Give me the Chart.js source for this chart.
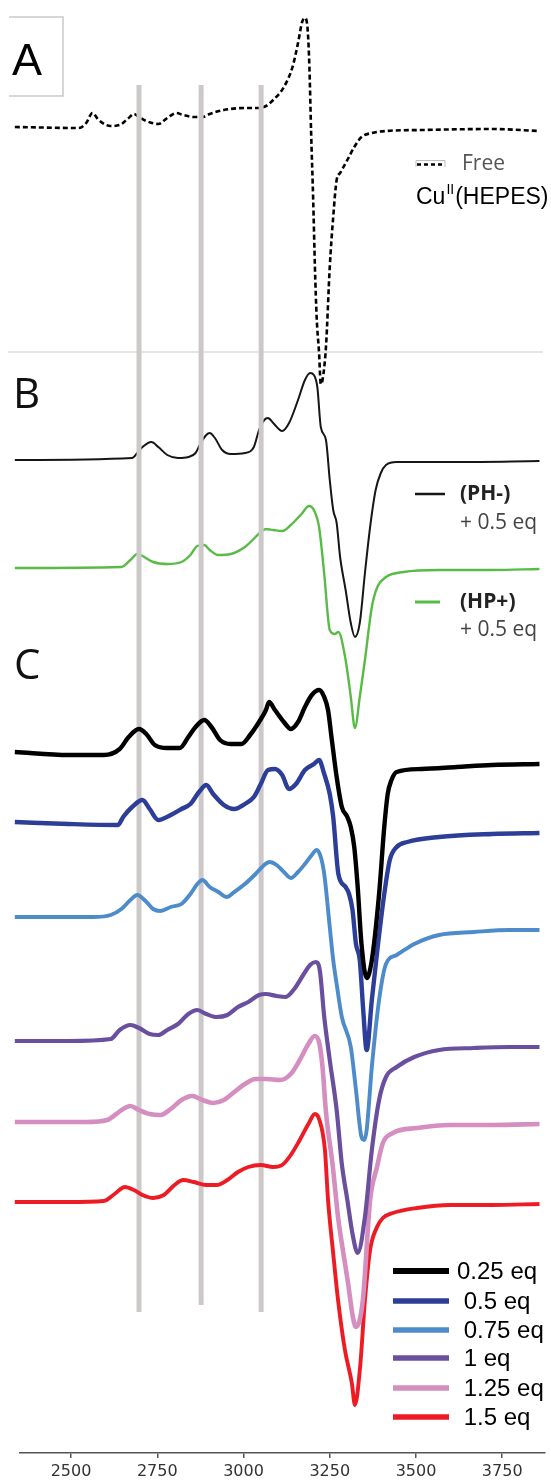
<!DOCTYPE html>
<html>
<head>
<meta charset="utf-8">
<script src="https://cdn.jsdelivr.net/npm/chart.js@4.4.1/dist/chart.umd.min.js"></script>
<style>
html,body{margin:0;padding:0;background:#fff;}
#wrap{width:551px;height:1482px;position:relative;}
canvas{display:block;}
</style>
</head>
<body>
<div id="wrap"><canvas id="c" width="551" height="1482"></canvas></div>
<script>
// ---- data (field in G, signal in arbitrary units relative to each trace's baseline) ----
const xTicks = [2500, 2750, 3000, 3250, 3500, 3750];
const hyperfineLines = [2697, 2877, 3051];
const hyperfineTop = [1368, 1368, 1368];
const hyperfineBottom = [141, 148, 141];

const freeField  = [2337,2523,2544,2562,2580,2615,2641,2667,2682,2697,2718,2753,2779,2805,2825,2856,2881,2902,2943,3004,3045,3065,3086,3117,3142,3158,3170,3178,3186,3191,3196,3202,3207,3212,3219,3224,3229,3239,3250,3260,3270,3280,3301,3321,3342,3372,3413,3516,3720,3858];
const freeSignal = [0,-1,4,14,7,1,2,9,13,10,6,3,9,14,12,10,10,13,17,19,19,21,27,40,60,84,105,109,97,60,-6,-73,-140,-190,-226,-257,-253,-220,-140,-90,-53,-46,-33,-20,-10,-6,-4,-3,-2,-4];

const phField  = [2337,2677,2692,2707,2733,2753,2779,2810,2840,2861,2876,2892,2902,2917,2938,2963,3004,3030,3045,3060,3071,3086,3112,3132,3158,3178,3193,3204,3214,3224,3239,3250,3260,3270,3280,3296,3311,3323,3337,3352,3367,3383,3398,3413,3444,3618,3858];
const phSignal = [0,2,7,13,18,13,5,2,3,7,17,25,27,22,10,6,7,13,30,40,42,37,29,37,60,80,87,85,73,33,20,-20,-50,-63,-97,-130,-163,-177,-163,-113,-67,-30,-13,-5,-2,-2,-1];

const hpField  = [2337,2646,2672,2692,2707,2738,2779,2820,2846,2866,2886,2902,2927,2963,3004,3035,3050,3065,3086,3112,3137,3168,3190,3204,3219,3234,3250,3265,3275,3296,3311,3323,3337,3352,3372,3388,3413,3464,3567,3720,3858];
const hpSignal = [0,1,8,14,12,6,4,6,13,22,23,18,13,14,21,31,36,39,38,37,43,54,62,58,41,-6,-62,-66,-64,-92,-129,-160,-129,-92,-39,-19,-9,-4,-2,-2,-1];

const eq025Field  = [2337,2493,2595,2641,2667,2697,2718,2743,2779,2815,2840,2861,2886,2907,2932,2963,2994,3019,3045,3065,3074,3091,3117,3137,3158,3178,3198,3219,3234,3245,3255,3270,3285,3301,3311,3321,3331,3342,3357,3372,3393,3408,3418,3429,3444,3516,3618,3720,3858];
const eq025Signal = [0,-3,-3,3,15,23,18,7,4,4,15,25,32,25,12,8,8,17,30,42,50,42,30,23,30,45,57,62,55,42,15,-25,-55,-65,-75,-95,-135,-192,-226,-208,-142,-75,-42,-28,-20,-17,-15,-13,-12];

const eq05Field  = [2337,2493,2636,2651,2677,2707,2728,2753,2789,2820,2846,2871,2892,2912,2943,2973,3004,3030,3050,3071,3091,3112,3132,3152,3178,3204,3219,3234,3250,3260,3275,3296,3306,3316,3326,3337,3347,3357,3372,3388,3408,3424,3444,3475,3567,3720,3858];
const eq05Signal = [0,-2,-3,5,15,22,13,2,7,13,18,30,37,28,17,13,18,25,38,52,53,47,33,38,52,58,62,48,28,5,-52,-65,-72,-88,-122,-138,-188,-228,-178,-128,-72,-38,-25,-20,-15,-12,-11];

const eq075Field  = [2337,2564,2615,2646,2672,2692,2713,2738,2759,2789,2820,2846,2866,2881,2902,2927,2951,2973,3004,3035,3060,3076,3096,3117,3137,3158,3178,3198,3212,3224,3234,3250,3260,3270,3285,3311,3326,3342,3350,3357,3372,3393,3413,3444,3495,3567,3669,3771,3858];
const eq075Signal = [0,0,2,8,17,22,17,8,6,10,13,23,33,37,30,25,20,25,33,43,52,55,52,45,39,45,53,62,67,60,43,-10,-43,-67,-100,-130,-173,-220,-223,-213,-150,-83,-47,-38,-27,-18,-15,-13,-13];

const eq1Field  = [2337,2493,2615,2641,2672,2697,2728,2753,2779,2810,2840,2866,2892,2922,2953,2984,3014,3045,3065,3096,3122,3147,3173,3193,3209,3221,3234,3250,3270,3285,3301,3316,3331,3352,3372,3393,3413,3444,3495,3567,3669,3771,3858];
const eq1Signal = [0,0,2,11,16,13,7,6,11,17,27,31,27,24,26,34,39,46,47,45,44,52,66,76,79,71,24,-19,-69,-123,-159,-193,-212,-176,-109,-59,-36,-26,-16,-9,-7,-6,-6];

const eq125Field  = [2337,2544,2605,2631,2651,2672,2697,2728,2759,2789,2820,2851,2881,2912,2943,2973,3004,3035,3065,3106,3137,3163,3188,3206,3219,3229,3239,3259,3274,3288,3303,3317,3326,3346,3367,3387,3404,3433,3503,3599,3720,3858];
const eq125Signal = [0,0,2,8,13,16,12,8,7,13,22,26,22,19,22,30,38,43,43,42,48,62,78,86,80,55,10,-45,-95,-128,-161,-195,-205,-178,-78,-45,-21,-11,-6,-3,-3,-2];

const eq15Field  = [2337,2493,2595,2626,2656,2682,2707,2738,2769,2800,2825,2856,2892,2922,2953,2984,3014,3050,3086,3112,3137,3163,3188,3207,3219,3236,3245,3259,3274,3294,3314,3323,3338,3352,3367,3387,3404,3433,3503,3599,3720,3858];
const eq15Signal = [0,0,1,8,15,12,7,4,7,17,22,20,17,17,22,30,35,37,35,37,47,62,78,88,83,52,2,-48,-98,-148,-181,-203,-165,-98,-48,-25,-16,-11,-6,-3,-3,-2];

const traceNames   = ['Free CuII(HEPES)','(PH-) + 0.5 eq','(HP+) + 0.5 eq','0.25 eq','0.5 eq','0.75 eq','1 eq','1.25 eq','1.5 eq'];
const traceOffsets = [1326, 993, 885, 701, 631, 536, 412, 331, 251];
const legendC = ['0.25 eq', ' 0.5 eq', ' 0.75 eq', ' 1 eq', ' 1.25 eq', ' 1.5 eq'];

// ---- build datasets ----
function pts(fx, sy, off){ return fx.map((g,i)=>({x:g, y:off+sy[i]})); }
const fields  = [freeField, phField, hpField, eq025Field, eq05Field, eq075Field, eq1Field, eq125Field, eq15Field];
const signals = [freeSignal, phSignal, hpSignal, eq025Signal, eq05Signal, eq075Signal, eq1Signal, eq125Signal, eq15Signal];
const colors  = ['#000000','#161616','#58bb46','#000000','#2d3e98','#4e8bcb','#6a4f9e','#d48ec0','#ed1c24'];
const widths  = [2.6, 2, 2.4, 4.4, 4.4, 3.9, 4.2, 4.6, 3.9];
const orders  = [5, 5, 5, 0, 0, 0, 0, 0, 0];

const datasets = [];
fields.forEach((f,i)=>{
  datasets.push({
    label: traceNames[i],
    data: pts(f, signals[i], traceOffsets[i]),
    borderColor: colors[i],
    borderWidth: widths[i],
    borderDash: i===0 ? [5,3] : [],
    cubicInterpolationMode: 'monotone',
    pointRadius: 0,
    fill: false,
    clip: false,
    order: orders[i] + (i>=3 ? (i-3)*0.01 : 0)
  });
});
hyperfineLines.forEach((g,i)=>{
  datasets.push({
    label: 'guide'+i,
    data: [{x:g, y:hyperfineTop[i]}, {x:g, y:hyperfineBottom[i]}],
    borderColor: '#cdc8c8',
    borderWidth: 5,
    pointRadius: 0,
    borderCapStyle: 'butt',
    order: 2
  });
});

const decor = {
  id: 'decor',
  beforeDatasetsDraw(chart){
    const c = chart.ctx;
    c.save();
    c.strokeStyle = '#dcdcdc'; c.lineWidth = 1.5;
    c.beginPath(); c.moveTo(8, 352); c.lineTo(543, 352); c.stroke();
    c.strokeStyle = '#c9c9c9'; c.lineWidth = 1.5;
    c.beginPath(); c.moveTo(9, 17); c.lineTo(63, 17); c.lineTo(63, 96); c.lineTo(9, 96); c.stroke();
    c.restore();
  },
  afterDraw(chart){
    const c = chart.ctx;
    c.save();
    c.textBaseline = 'alphabetic';
    c.fillStyle = '#000';
    c.font = '45px "Liberation Sans", Arial, sans-serif';
    c.fillText('A', 12, 75);
    c.font = '42px "Open Sans", sans-serif';
    c.fillStyle = '#111';
    c.fillText('B', 13, 408);
    c.fillText('C', 14, 679);

    // panel A legend
    c.strokeStyle = '#bdbdbd'; c.lineWidth = 1;
    c.beginPath(); c.moveTo(416, 167); c.lineTo(416, 160.5); c.lineTo(445, 160.5); c.lineTo(445, 167); c.stroke();
    c.strokeStyle = '#000'; c.lineWidth = 2.5; c.setLineDash([4,3]);
    c.beginPath(); c.moveTo(417, 164.5); c.lineTo(445, 164.5); c.stroke();
    c.setLineDash([]);
    c.textBaseline = 'middle';
    c.fillStyle = '#555';
    c.font = '21px "Open Sans", sans-serif';
    c.fillText('Free', 462, 164);
    c.fillStyle = '#000';
    c.font = '23px "Liberation Sans", Arial, sans-serif';
    let x = 416;
    c.fillText('Cu', x, 198); x += c.measureText('Cu').width + 1;
    c.font = '14px "Liberation Sans", Arial, sans-serif';
    c.fillText('II', x, 190); x += c.measureText('II').width + 1;
    c.font = '23px "Liberation Sans", Arial, sans-serif';
    c.fillText('(HEPES)', x, 198);

    // panel B legend
    c.lineWidth = 2.5;
    c.strokeStyle = '#161616';
    c.beginPath(); c.moveTo(415, 494); c.lineTo(445, 494); c.stroke();
    c.strokeStyle = '#58bb46'; c.lineWidth = 3;
    c.beginPath(); c.moveTo(415, 602); c.lineTo(440, 602); c.stroke();
    c.font = 'bold 21px "Open Sans", sans-serif';
    c.fillStyle = '#222';
    c.fillText('(PH-)', 460, 494);
    c.fillText('(HP+)', 460, 602);
    c.font = '21px "Open Sans", sans-serif';
    c.fillStyle = '#444';
    c.fillText('+ 0.5 eq', 460, 523);
    c.fillText('+ 0.5 eq', 460, 630);

    // panel C legend
    const rows = [1271, 1301, 1330, 1358, 1388, 1417];
    c.font = '24px "Liberation Sans", Arial, sans-serif';
    rows.forEach((y,i)=>{
      c.strokeStyle = colors[3+i];
      c.lineWidth = i===0 ? 6 : 5.5;
      c.beginPath(); c.moveTo(393, y); c.lineTo(449, y); c.stroke();
      c.fillStyle = '#000';
      c.fillText(legendC[i], 457, y+1);
    });
    c.restore();
  }
};

new Chart(document.getElementById('c'), {
  type: 'line',
  data: { datasets },
  options: {
    responsive: false,
    animation: false,
    devicePixelRatio: 1,
    layout: { padding: { left: 20, right: 6, top: 0, bottom: 0 } },
    plugins: { legend: { display: false }, tooltip: { enabled: false } },
    elements: { point: { radius: 0 } },
    scales: {
      x: {
        type: 'linear', min: 2352, max: 3874, position: 'bottom',
        afterBuildTicks: s => { s.ticks = xTicks.map(v => ({ value: v })); },
        afterFit: s => { s.height = 29; },
        grid: { drawOnChartArea: false, drawTicks: true, tickLength: 5, color: '#555', lineWidth: 1.5 },
        border: { display: true, color: '#555', width: 1.5 },
        ticks: { font: { family: 'DejaVu Sans', size: 16 }, color: '#333', padding: 4, maxRotation: 0, autoSkip: false,
                 callback: v => String(v) }
      },
      y: { display: false, min: 0, max: 1453 }
    }
  },
  plugins: [decor]
});
</script>
</body>
</html>
